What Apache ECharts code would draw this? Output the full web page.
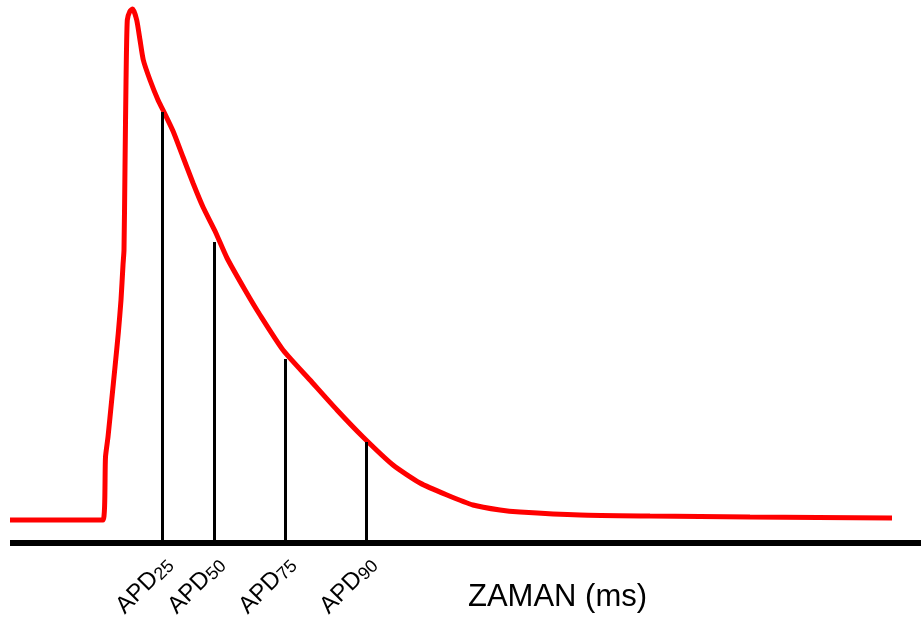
<!DOCTYPE html>
<html>
<head>
<meta charset="utf-8">
<script src="https://cdn.jsdelivr.net/npm/echarts@6/dist/echarts.min.js"></script>
<style>
  html, body { margin: 0; padding: 0; background: #fff; }
  #chart { width: 921px; height: 624px; }
</style>
</head>
<body>
<div id="chart"></div>
<script>
// action potential trace, time in ms and membrane potential in mV
const timeMs = [0, 46.5, 47.75, 49, 50.85, 52.5, 54.15, 55.5, 56.5, 57, 57.5, 58, 58.65, 60, 61.35, 63.35,
  65, 66.65, 70, 74, 76.5, 81.5, 86.5, 91.5, 96.5, 102.5, 108.5, 117.5, 125, 136.5, 150, 163.5, 176.5,
  191.5, 205, 218.5, 231.5, 245, 255, 285, 320, 370, 441];
const voltage = [-84.25, -84.25, -68.5, -63.5, -54.25, -46, -37.5, -29.25, -20.5, -16.75, 4, 25, 40.75,
  43, 43.5, 40.75, 35.75, 30.75, 25.75, 20.75, 18.25, 13, 6.5, 0, -6, -12, -18.75, -26.75, -33, -41.75,
  -49.25, -56.75, -63.5, -70.5, -75, -78, -80.5, -81.75, -82.25, -83, -83.25, -83.5, -83.75];

// repolarisation markers
const apdLevels = ['25', '50', '75', '90'];
const apdTimes = [76, 102, 137.5, 178];
const apdVoltage = [17.75, -14.75, -44, -64.75];

const Y_MIN = -90;

const chart = echarts.init(document.getElementById('chart'));

const trace = timeMs.map((t, i) => [t, voltage[i]]);
const markers = apdTimes.map((t, i) => [
  { coord: [t, Y_MIN] },
  { coord: [t, apdVoltage[i]] }
]);

chart.setOption({
  animation: false,
  grid: { left: 10, right: 0, top: 0, bottom: 81 },
  xAxis: {
    type: 'value',
    min: 0,
    max: 455.5,
    splitLine: { show: false },
    axisTick: { show: false },
    axisLine: { show: true, onZero: false, lineStyle: { color: '#000', width: 6, cap: 'butt' } },
    axisLabel: {
      customValues: apdTimes,
      rotate: 45,
      margin: 25,
      padding: [0, -10, 0, 0],
      color: '#000',
      fontSize: 24,
      fontFamily: 'Liberation Sans',
      formatter: (v) => {
        const i = apdTimes.indexOf(v);
        return i < 0 ? '' : '{main|APD}{sub|' + apdLevels[i] + '}';
      },
      rich: {
        main: { fontSize: 24, color: '#000', fontFamily: 'Liberation Sans' },
        sub: { fontSize: 18, color: '#000', fontFamily: 'Liberation Sans', verticalAlign: 'bottom', padding: [7, 0, 0, 0] }
      }
    }
  },
  yAxis: {
    type: 'value',
    min: Y_MIN,
    max: 45.75,
    show: false
  },
  graphic: [{
    type: 'text',
    left: 468,
    top: 582,
    style: { text: 'ZAMAN (ms)', fontSize: 31, fontFamily: 'Liberation Sans', fill: '#000' }
  }],
  series: [{
    type: 'line',
    data: trace,
    smooth: 0.2,
    showSymbol: false,
    lineStyle: { color: '#ff0000', width: 5 },
    z: 3,
    markLine: {
      silent: true,
      symbol: 'none',
      label: { show: false },
      lineStyle: { color: '#000', width: 3, type: 'solid' },
      data: markers
    }
  }]
});
</script>
</body>
</html>
